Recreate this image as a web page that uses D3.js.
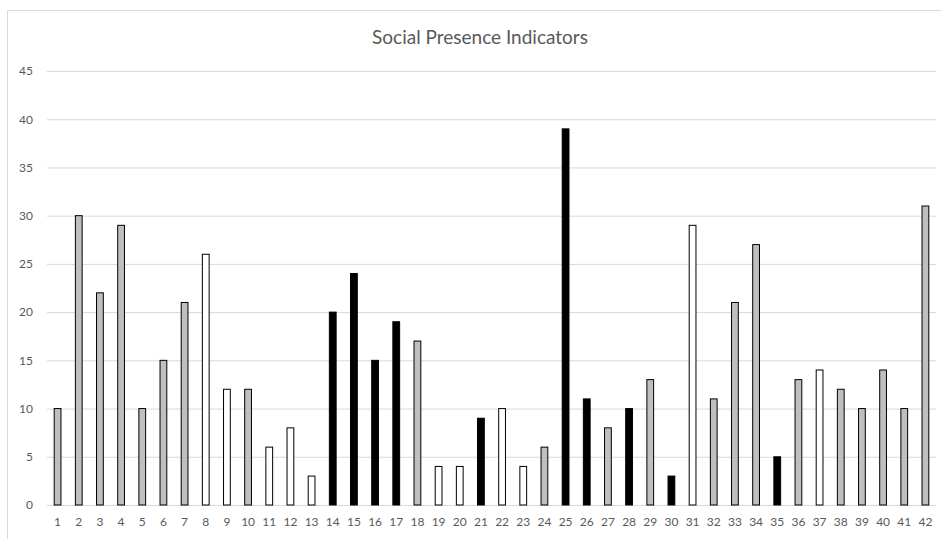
<!DOCTYPE html>
<html><head><meta charset="utf-8">
<script src="https://cdn.jsdelivr.net/npm/d3@7"></script>
<style>body{margin:0;background:#fff}svg{display:block}</style>
</head><body>
<script>
const categories = d3.range(1, 43).map(String);
const values = [10,30,22,29,10,15,21,26,12,12,6,8,3,20,24,15,19,17,4,4,9,10,4,6,39,11,8,10,13,3,29,11,21,27,5,13,14,12,10,14,10,31];
const groups = ["g","g","g","g","g","g","g","w","w","g","w","w","w","b","b","b","b","g","w","w","b","w","w","g","b","b","g","b","g","b","w","g","g","g","b","g","w","g","g","g","g","g"];
const groupColors = {g:"#bfbfbf", w:"#ffffff", b:"#000000"};
const yTicks = [0,5,10,15,20,25,30,35,40,45];
const title = "Social Presence Indicators";

const W = 941, H = 539;
const svg = d3.select("body").append("svg").attr("width", W).attr("height", H);
svg.append("rect").attr("x",7.5).attr("y",10.5).attr("width",940).attr("height",540)
  .attr("fill","#fff").attr("stroke","#d9d9d9");

const x = d3.scaleBand().domain(categories).range([47, 936]).paddingInner(0.68).paddingOuter(0.34);
const y = d3.scaleLinear().domain([0,45]).range([505, 71]);

const font = "Lato, 'Open Sans', sans-serif";
svg.append("text").attr("x", 480).attr("y", 44).attr("text-anchor","middle")
  .attr("font-family", font).attr("font-size", 19).attr("fill","#595959").text(title);

const yAxis = svg.append("g").attr("transform","translate(47,0)")
  .call(d3.axisLeft(y).tickValues(yTicks).tickSize(-(936-47)).tickPadding(14));
yAxis.select(".domain").remove();
yAxis.selectAll(".tick line").attr("stroke","#d9d9d9");
yAxis.selectAll(".tick text").attr("font-family",font).attr("font-size",12).attr("fill","#595959");

const xAxis = svg.append("g").attr("transform","translate(0,505)")
  .call(d3.axisBottom(x).tickSize(0).tickPadding(12));
xAxis.select(".domain").attr("stroke","#d9d9d9");
xAxis.selectAll(".tick text").attr("font-family",font).attr("font-size",12).attr("fill","#595959");

svg.append("g").selectAll("rect").data(values).join("rect")
  .attr("x",(d,i)=>x(categories[i]))
  .attr("y",d=>y(d))
  .attr("width",x.bandwidth())
  .attr("height",d=>y(0)-y(d))
  .attr("fill",(d,i)=>groupColors[groups[i]])
  .attr("stroke","#000").attr("stroke-width",1);
</script>
</body></html>
